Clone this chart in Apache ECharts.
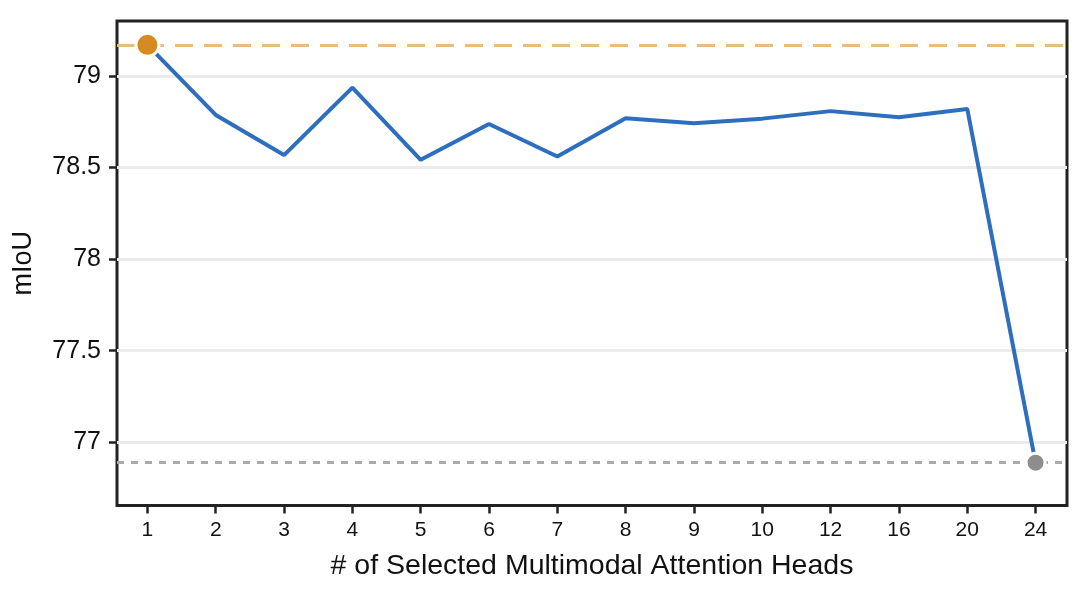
<!DOCTYPE html>
<html>
<head>
<meta charset="utf-8">
<script src="https://cdn.jsdelivr.net/npm/echarts@6/dist/echarts.min.js"></script>
<style>
html,body{margin:0;padding:0;background:#fff;}
#chart{width:1089px;height:593px;}
</style>
</head>
<body>
<div id="chart"></div>
<script>
// Data
const categories = ['1','2','3','4','5','6','7','8','9','10','12','16','20','24'];
const miou = [79.17, 78.787, 78.568, 78.936, 78.542, 78.738, 78.56, 78.769, 78.742, 78.767, 78.808, 78.775, 78.82, 76.889];
const bestLine = 79.17;   // orange dashed reference
const allLine = 76.889;   // gray dotted reference
const yTicks = [77, 77.5, 78, 78.5, 79];

const FONT = '"Liberation Sans", Arial, Helvetica, sans-serif';
const idx = categories.map((c, i) => i);

const chart = echarts.init(document.getElementById('chart'), null, {renderer: 'canvas'});
chart.setOption({
  animation: false,
  backgroundColor: '#fff',
  grid: {
    left: 117, top: 21, right: 22, bottom: 87.5,
    show: true, borderColor: '#222', borderWidth: 3, backgroundColor: 'transparent'
  },
  xAxis: {
    type: 'value',
    min: -0.445, max: 13.46,
    name: '# of Selected Multimodal Attention Heads',
    nameLocation: 'middle',
    nameGap: 46,
    nameTextStyle: {fontFamily: FONT, fontSize: 28.5, color: '#111'},
    axisLine: {show: false, onZero: false},
    axisTick: {show: true, length: 8, inside: false, customValues: idx, lineStyle: {color: '#222', width: 2.5}},
    axisLabel: {
      customValues: idx,
      formatter: v => categories[Math.round(v)] ?? '',
      fontFamily: FONT, fontSize: 21, color: '#111', margin: 14
    },
    splitLine: {show: false}
  },
  yAxis: {
    type: 'value',
    min: 76.655, max: 79.30,
    splitNumber: 5,
    name: 'mIoU',
    nameLocation: 'middle',
    nameGap: 80,
    nameTextStyle: {fontFamily: FONT, fontSize: 27, color: '#111'},
    axisLine: {show: false, onZero: false},
    axisTick: {show: true, length: 8, customValues: yTicks, lineStyle: {color: '#222', width: 2.5}},
    axisLabel: {
      customValues: yTicks,
      formatter: v => String(v),
      fontFamily: FONT, fontSize: 25, color: '#111', margin: 16
    },
    splitLine: {show: true, lineStyle: {color: '#ebebeb', width: 3}}
  },
  series: [
    {
      type: 'line',
      data: [],
      z: 1,
      markLine: {
        silent: true,
        z: 1,
        symbol: 'none',
        label: {show: false},
        data: [
          {yAxis: bestLine, lineStyle: {color: '#e9bd79', width: 3, type: [18, 11]}},
          {yAxis: allLine, lineStyle: {color: '#aaaaaa', width: 3, type: [7, 7]}}
        ]
      }
    },
    {
      type: 'line',
      data: idx.map(i => [i, miou[i]]),
      z: 3,
      symbol: 'none',
      lineStyle: {color: '#2e6ebf', width: 4},
      emphasis: {disabled: true}
    },
    {
      type: 'scatter',
      z: 10,
      data: [
        {value: [0, miou[0]], symbolSize: 23, itemStyle: {color: '#d68a22', opacity: 1, borderColor: '#fff', borderWidth: 3}},
        {value: [idx.length - 1, miou[miou.length - 1]], symbolSize: 19, itemStyle: {color: '#8d8d8d', opacity: 1, borderColor: '#fff', borderWidth: 3}}
      ],
      emphasis: {disabled: true}
    }
  ]
});
</script>
</body>
</html>
